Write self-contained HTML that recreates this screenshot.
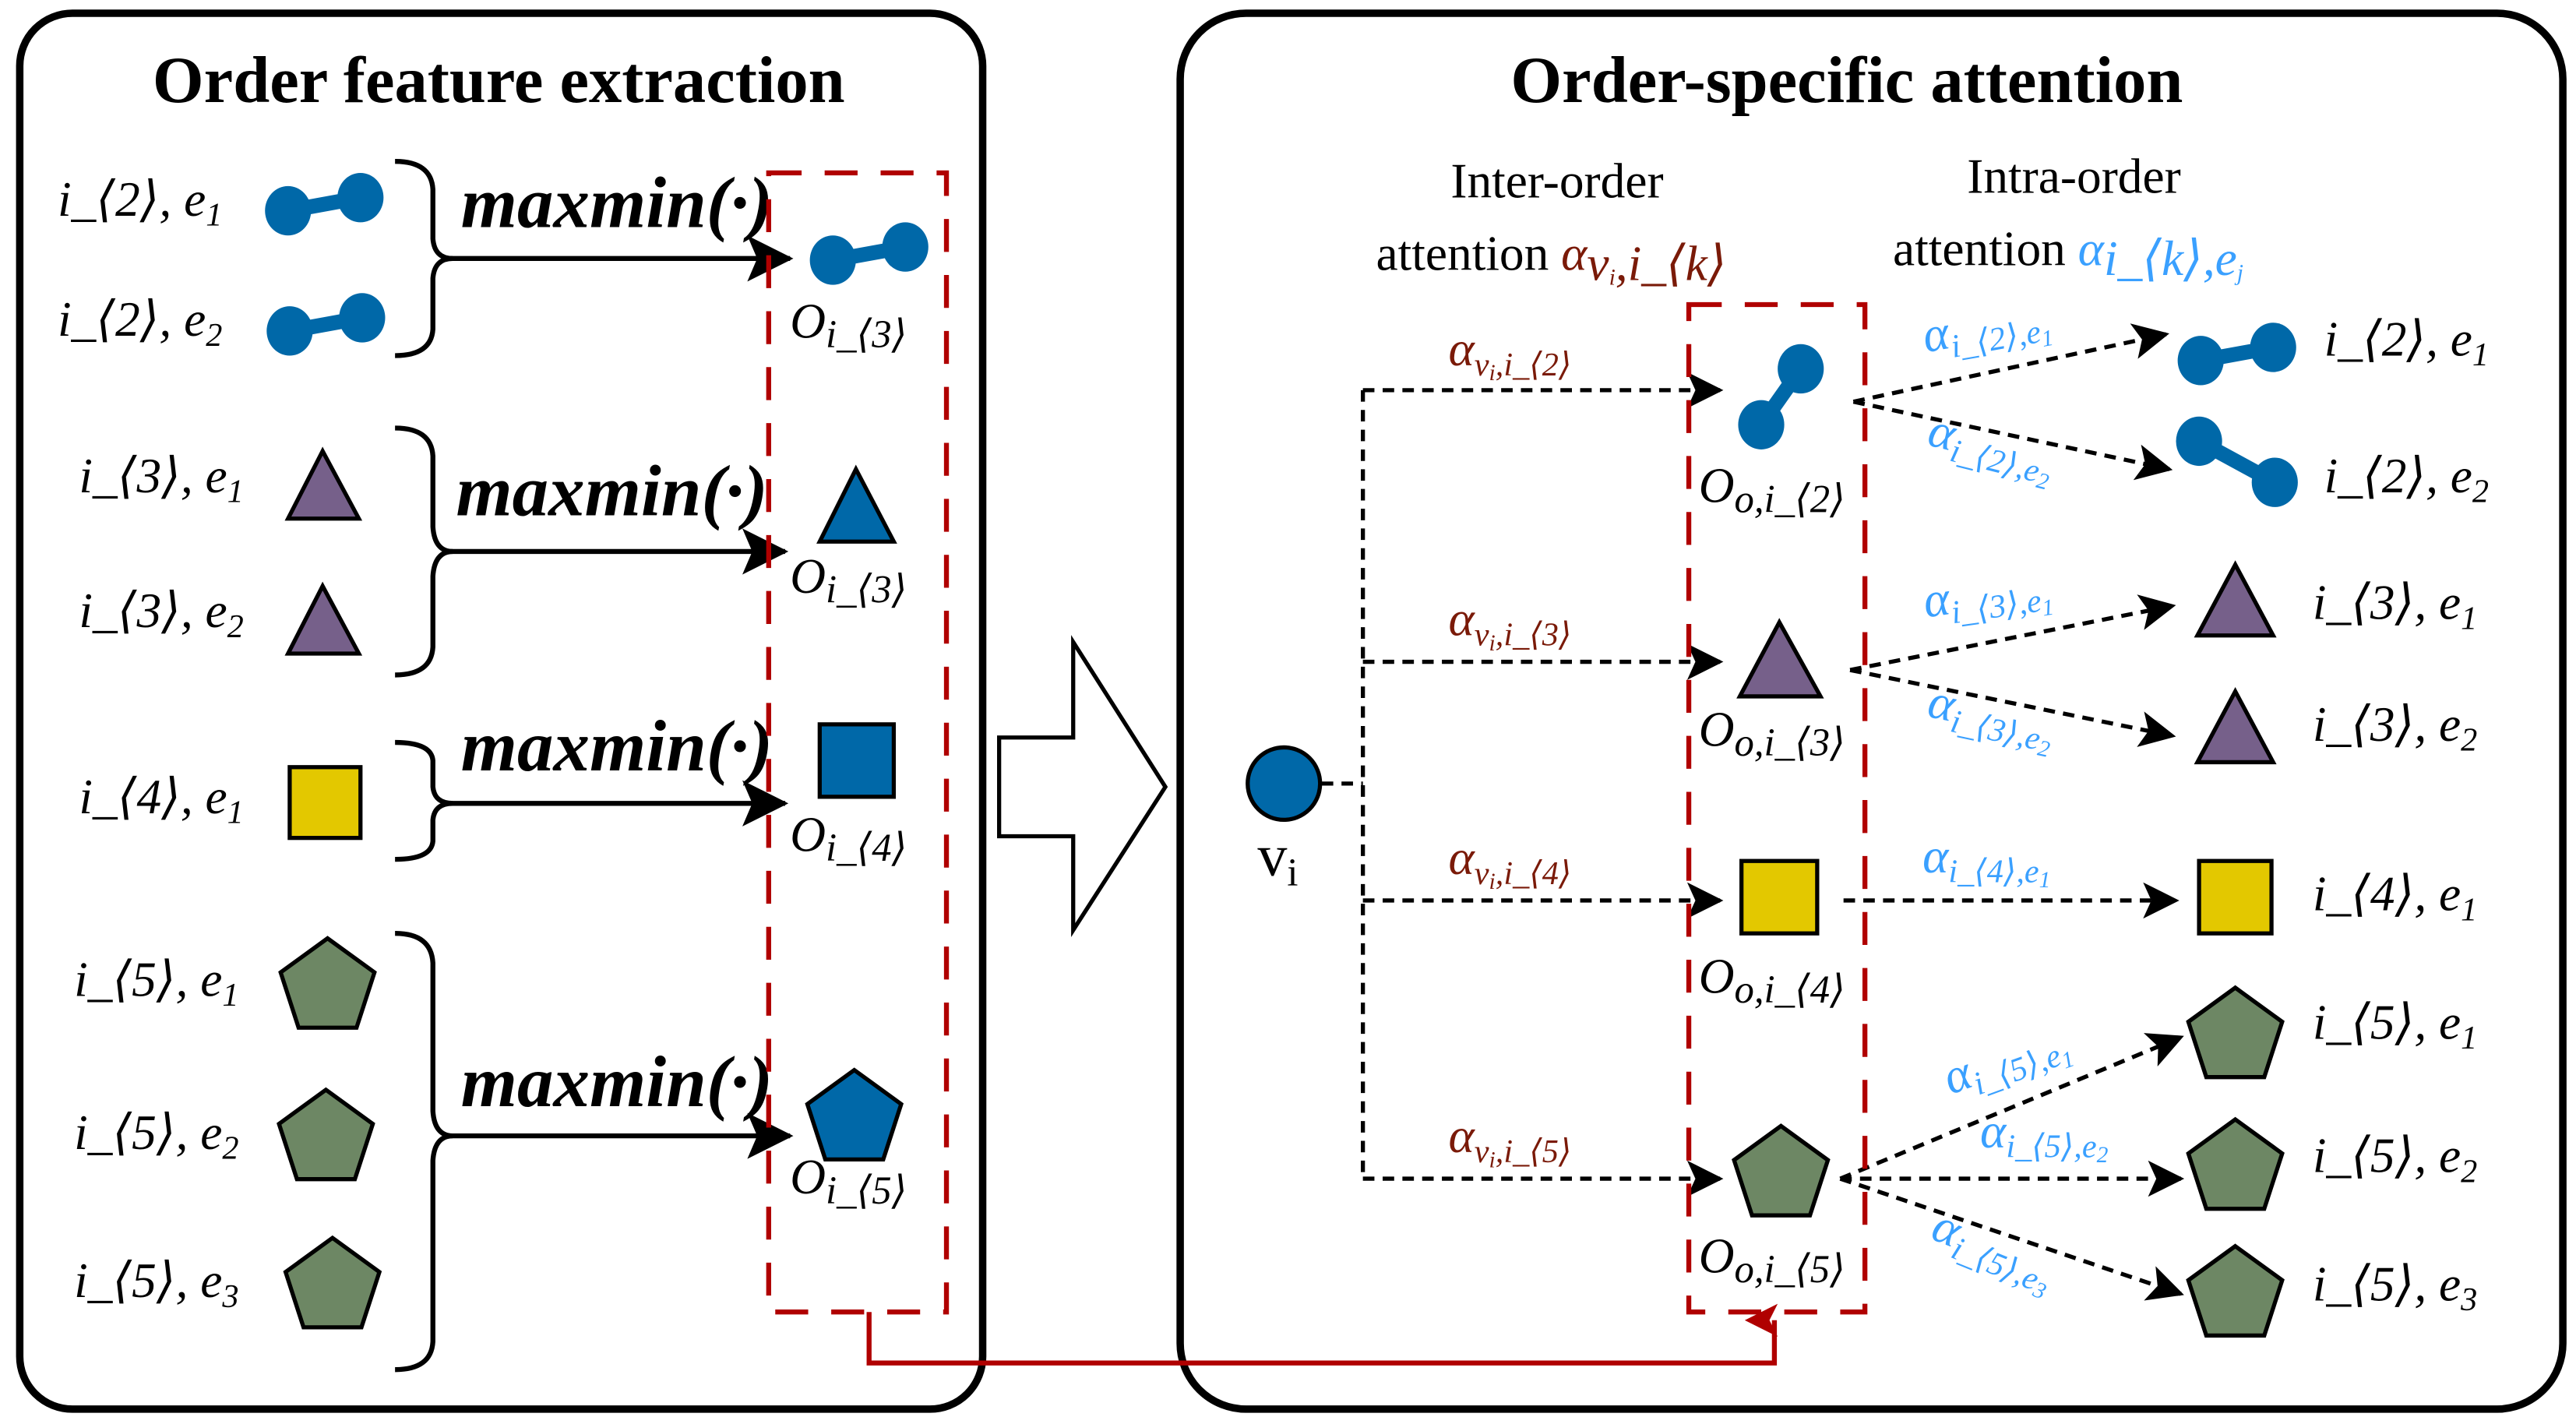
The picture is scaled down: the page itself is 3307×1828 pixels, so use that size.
<!DOCTYPE html>
<html><head><meta charset="utf-8"><style>
html,body{margin:0;padding:0;background:#fff;}
svg{display:block;}
text{font-family:"Liberation Serif","DejaVu Serif",serif;}
.m{font-family:"Liberation Serif","DejaVu Serif",serif;font-style:italic;font-size:30px;fill:#000;}
.mm{font-family:"Liberation Serif","DejaVu Serif",serif;font-style:italic;font-size:44px;font-weight:bold;}
.t{font-weight:bold;font-size:40px;}
.h{font-size:30px;}
.br{font-family:"Liberation Serif","DejaVu Serif",serif;fill:#7a1a08;font-style:italic;font-size:30px;}
.bl{font-family:"Liberation Serif","DejaVu Serif",serif;fill:#3aa0ff;font-style:italic;font-size:30px;}
</style></head><body>
<svg width="3307" height="1828" viewBox="0 0 1565 865" xmlns="http://www.w3.org/2000/svg">
<defs>
<marker id="ab" markerWidth="22" markerHeight="22" refX="20" refY="11" orient="auto" markerUnits="userSpaceOnUse"><path d="M0,0 L22,11 L0,22 L5,11 z" fill="#000"/></marker>
<marker id="abl" markerWidth="28" markerHeight="28" refX="26" refY="14" orient="auto" markerUnits="userSpaceOnUse"><path d="M0,0 L28,14 L0,28 L6,14 z" fill="#000"/></marker>
<marker id="ar" markerWidth="20" markerHeight="20" refX="10" refY="18" orient="auto" markerUnits="userSpaceOnUse"><path d="M0,20 L10,0 L20,20 L10,15 z" fill="#b00000"/></marker>
<g id="db"><line x1="0" y1="0" x2="44" y2="-8" stroke="#0068a8" stroke-width="9"/><ellipse cx="0" cy="0" rx="14" ry="15" fill="#0068a8"/><ellipse cx="44" cy="-8" rx="14" ry="15" fill="#0068a8"/></g>
<polygon id="pg" points="0,-30 28.5,-9.3 17.6,24.3 -17.6,24.3 -28.5,-9.3" fill="#6d8764" stroke="#000" stroke-width="2.5"/>
</defs>

<rect x="12" y="8" width="585" height="848" rx="32" fill="none" stroke="#000" stroke-width="4.5"/>
<rect x="717" y="8" width="840" height="848" rx="40" fill="none" stroke="#000" stroke-width="4.5"/>
<text class="t" x="303" y="62" text-anchor="middle">Order feature extraction</text>
<text class="t" x="1122" y="62" text-anchor="middle">Order-specific attention</text>

<text class="m" x="35" y="131">i_⟨2⟩, e<tspan font-size="20" dy="6">1</tspan></text>
<text class="m" x="35" y="204">i_⟨2⟩, e<tspan font-size="20" dy="6">2</tspan></text>
<text class="m" x="48" y="299">i_⟨3⟩, e<tspan font-size="20" dy="6">1</tspan></text>
<text class="m" x="48" y="381">i_⟨3⟩, e<tspan font-size="20" dy="6">2</tspan></text>
<text class="m" x="48" y="494">i_⟨4⟩, e<tspan font-size="20" dy="6">1</tspan></text>
<text class="m" x="45" y="605">i_⟨5⟩, e<tspan font-size="20" dy="6">1</tspan></text>
<text class="m" x="45" y="698">i_⟨5⟩, e<tspan font-size="20" dy="6">2</tspan></text>
<text class="m" x="45" y="788">i_⟨5⟩, e<tspan font-size="20" dy="6">3</tspan></text>

<use href="#db" x="175" y="128"/>
<use href="#db" x="176" y="201"/>
<polygon points="196,274 175,315 218,315" fill="#76608a" stroke="#000" stroke-width="2.5"/>
<polygon points="196,356 175,397 218,397" fill="#76608a" stroke="#000" stroke-width="2.5"/>
<rect x="176" y="466" width="43" height="43" fill="#e3c800" stroke="#000" stroke-width="2.5"/>
<use href="#pg" x="199" y="600"/>
<use href="#pg" x="198" y="692"/>
<use href="#pg" x="202" y="782"/>

<g fill="none" stroke="#000" stroke-width="3">
<path d="M240,98 Q262,98 263,115 L263,145 Q264,157 275,157 Q264,157 263,169 L263,200 Q262,216 240,216"/>
<path d="M240,260 Q262,260 263,277 L263,320 Q264,335 275,335 Q264,335 263,350 L263,393 Q262,410 240,410"/>
<path d="M240,451 Q262,451 263,462 L263,478 Q264,488 275,488 Q264,488 263,498 L263,511 Q262,522 240,522"/>
<path d="M240,567 Q262,567 263,585 L263,675 Q264,690 275,690 Q264,690 263,705 L263,815 Q262,832 240,832"/>
</g>
<g stroke="#000" stroke-width="3">
<line x1="272" y1="157" x2="480" y2="157" marker-end="url(#abl)"/>
<line x1="272" y1="335" x2="477" y2="335" marker-end="url(#abl)"/>
<line x1="272" y1="488" x2="477" y2="488" marker-end="url(#abl)"/>
<line x1="272" y1="690" x2="480" y2="690" marker-end="url(#abl)"/>
</g>
<text class="mm" x="280" y="138">maxmin(·)</text>
<text class="mm" x="277" y="313">maxmin(·)</text>
<text class="mm" x="280" y="468">maxmin(·)</text>
<text class="mm" x="280" y="672">maxmin(·)</text>

<use href="#db" x="506" y="158"/>
<polygon points="520,285 498,329 543,329" fill="#0068a8" stroke="#000" stroke-width="2.5"/>
<rect x="498" y="440" width="45" height="44" fill="#0068a8" stroke="#000" stroke-width="2.5"/>
<polygon points="0,-30 28.5,-9.3 17.6,24.3 -17.6,24.3 -28.5,-9.3" transform="translate(519,680)" fill="#0068a8" stroke="#000" stroke-width="2.5"/>
<text class="m" x="480" y="205" font-size="32">O<tspan font-size="24" dy="6">i_⟨3⟩</tspan></text>
<text class="m" x="480" y="360" font-size="32">O<tspan font-size="24" dy="6">i_⟨3⟩</tspan></text>
<text class="m" x="480" y="517" font-size="32">O<tspan font-size="24" dy="6">i_⟨4⟩</tspan></text>
<text class="m" x="480" y="725" font-size="32">O<tspan font-size="24" dy="6">i_⟨5⟩</tspan></text>
<rect x="467" y="105" width="108" height="692" fill="none" stroke="#b00000" stroke-width="3" stroke-dasharray="20,14"/>

<polygon points="607,448 652,448 652,390 708,478 652,565 652,508 607,508" fill="#fff" stroke="#000" stroke-width="2.5"/>

<polyline points="528,797 528,828 1078,828 1078,802" fill="none" stroke="#b00000" stroke-width="3" marker-end="url(#ar)"/>

<text class="h" x="946" y="120" text-anchor="middle">Inter-order</text>
<text class="h" x="836" y="164">attention <tspan class="br" font-size="32">α</tspan><tspan class="br" font-size="20" dy="6">v<tspan font-size="14" dy="3">i</tspan><tspan dy="-3">,i_⟨k⟩</tspan></tspan></text>
<text class="h" x="1260" y="117" text-anchor="middle">Intra-order</text>
<text class="h" x="1150" y="161">attention <tspan class="bl" font-size="32">α</tspan><tspan class="bl" font-size="20" dy="6">i_⟨k⟩,e<tspan font-size="14" dy="3">j</tspan></tspan></text>

<circle cx="780" cy="476" r="22" fill="#0068a8" stroke="#000" stroke-width="2.5"/>
<text x="764" y="532" font-size="36">v<tspan font-size="24" dy="6">i</tspan></text>

<g stroke="#000" stroke-width="2.5" stroke-dasharray="7,5" fill="none">
<line x1="803" y1="476" x2="828" y2="476"/>
<line x1="828" y1="237" x2="828" y2="716"/>
<line x1="828" y1="237" x2="1045" y2="237" marker-end="url(#ab)"/>
<line x1="828" y1="402" x2="1045" y2="402" marker-end="url(#ab)"/>
<line x1="828" y1="547" x2="1045" y2="547" marker-end="url(#ab)"/>
<line x1="828" y1="716" x2="1045" y2="716" marker-end="url(#ab)"/>
<line x1="1126" y1="244" x2="1316" y2="203" marker-end="url(#ab)"/>
<line x1="1126" y1="244" x2="1318" y2="285" marker-end="url(#ab)"/>
<line x1="1124" y1="407" x2="1320" y2="368" marker-end="url(#ab)"/>
<line x1="1124" y1="407" x2="1320" y2="447" marker-end="url(#ab)"/>
<line x1="1120" y1="547" x2="1322" y2="547" marker-end="url(#ab)"/>
<line x1="1118" y1="716" x2="1325" y2="630" marker-end="url(#ab)"/>
<line x1="1118" y1="716" x2="1325" y2="716" marker-end="url(#ab)"/>
<line x1="1118" y1="716" x2="1325" y2="786" marker-end="url(#ab)"/>
</g>

<text class="br" x="880" y="222">α<tspan font-size="20" dy="6">v<tspan font-size="14" dy="3">i</tspan><tspan dy="-3">,i_⟨2⟩</tspan></tspan></text>
<text class="br" x="880" y="386">α<tspan font-size="20" dy="6">v<tspan font-size="14" dy="3">i</tspan><tspan dy="-3">,i_⟨3⟩</tspan></tspan></text>
<text class="br" x="880" y="531">α<tspan font-size="20" dy="6">v<tspan font-size="14" dy="3">i</tspan><tspan dy="-3">,i_⟨4⟩</tspan></tspan></text>
<text class="br" x="880" y="700">α<tspan font-size="20" dy="6">v<tspan font-size="14" dy="3">i</tspan><tspan dy="-3">,i_⟨5⟩</tspan></tspan></text>

<text class="bl" x="1170" y="214" transform="rotate(-10 1170 214)">α<tspan font-size="20" dy="6">i_⟨2⟩,e<tspan font-size="14" dy="3">1</tspan></tspan></text>
<text class="bl" x="1170" y="270" transform="rotate(14 1170 270)">α<tspan font-size="20" dy="6">i_⟨2⟩,e<tspan font-size="14" dy="3">2</tspan></tspan></text>
<text class="bl" x="1170" y="375" transform="rotate(-8 1170 375)">α<tspan font-size="20" dy="6">i_⟨3⟩,e<tspan font-size="14" dy="3">1</tspan></tspan></text>
<text class="bl" x="1170" y="435" transform="rotate(12 1170 435)">α<tspan font-size="20" dy="6">i_⟨3⟩,e<tspan font-size="14" dy="3">2</tspan></tspan></text>
<text class="bl" x="1168" y="530">α<tspan font-size="20" dy="6">i_⟨4⟩,e<tspan font-size="14" dy="3">1</tspan></tspan></text>
<text class="bl" x="1185" y="665" transform="rotate(-20 1185 665)">α<tspan font-size="20" dy="6">i_⟨5⟩,e<tspan font-size="14" dy="3">1</tspan></tspan></text>
<text class="bl" x="1203" y="697">α<tspan font-size="20" dy="6">i_⟨5⟩,e<tspan font-size="14" dy="3">2</tspan></tspan></text>
<text class="bl" x="1172" y="752" transform="rotate(22 1172 752)">α<tspan font-size="20" dy="6">i_⟨5⟩,e<tspan font-size="14" dy="3">3</tspan></tspan></text>

<g><line x1="1070" y1="258" x2="1094" y2="224" stroke="#0068a8" stroke-width="9"/><ellipse cx="1070" cy="258" rx="14" ry="15" fill="#0068a8"/><ellipse cx="1094" cy="224" rx="14" ry="15" fill="#0068a8"/></g>
<polygon points="1081,378 1057,423 1106,423" fill="#76608a" stroke="#000" stroke-width="2.5"/>
<rect x="1058" y="523" width="46" height="44" fill="#e3c800" stroke="#000" stroke-width="2.5"/>
<use href="#pg" x="1082" y="714"/>
<text class="m" x="1032" y="305" font-size="32">O<tspan font-size="24" dy="6">o,i_⟨2⟩</tspan></text>
<text class="m" x="1032" y="453" font-size="32">O<tspan font-size="24" dy="6">o,i_⟨3⟩</tspan></text>
<text class="m" x="1032" y="603" font-size="32">O<tspan font-size="24" dy="6">o,i_⟨4⟩</tspan></text>
<text class="m" x="1032" y="773" font-size="32">O<tspan font-size="24" dy="6">o,i_⟨5⟩</tspan></text>
<rect x="1026" y="185" width="107" height="612" fill="none" stroke="#b00000" stroke-width="3" stroke-dasharray="20,14"/>

<use href="#db" x="1337" y="219"/>
<g><line x1="1336" y1="268" x2="1382" y2="293" stroke="#0068a8" stroke-width="9"/><ellipse cx="1336" cy="268" rx="14" ry="15" fill="#0068a8"/><ellipse cx="1382" cy="293" rx="14" ry="15" fill="#0068a8"/></g>
<polygon points="1358,343 1335,386 1381,386" fill="#76608a" stroke="#000" stroke-width="2.5"/>
<polygon points="1358,420 1335,463 1381,463" fill="#76608a" stroke="#000" stroke-width="2.5"/>
<rect x="1336" y="523" width="44" height="44" fill="#e3c800" stroke="#000" stroke-width="2.5"/>
<use href="#pg" x="1358" y="630"/>
<use href="#pg" x="1358" y="710"/>
<use href="#pg" x="1358" y="787"/>

<text class="m" x="1412" y="216">i_⟨2⟩, e<tspan font-size="20" dy="6">1</tspan></text>
<text class="m" x="1412" y="299">i_⟨2⟩, e<tspan font-size="20" dy="6">2</tspan></text>
<text class="m" x="1405" y="376">i_⟨3⟩, e<tspan font-size="20" dy="6">1</tspan></text>
<text class="m" x="1405" y="450">i_⟨3⟩, e<tspan font-size="20" dy="6">2</tspan></text>
<text class="m" x="1405" y="553">i_⟨4⟩, e<tspan font-size="20" dy="6">1</tspan></text>
<text class="m" x="1405" y="631">i_⟨5⟩, e<tspan font-size="20" dy="6">1</tspan></text>
<text class="m" x="1405" y="712">i_⟨5⟩, e<tspan font-size="20" dy="6">2</tspan></text>
<text class="m" x="1405" y="790">i_⟨5⟩, e<tspan font-size="20" dy="6">3</tspan></text>
</svg>
</body></html>
